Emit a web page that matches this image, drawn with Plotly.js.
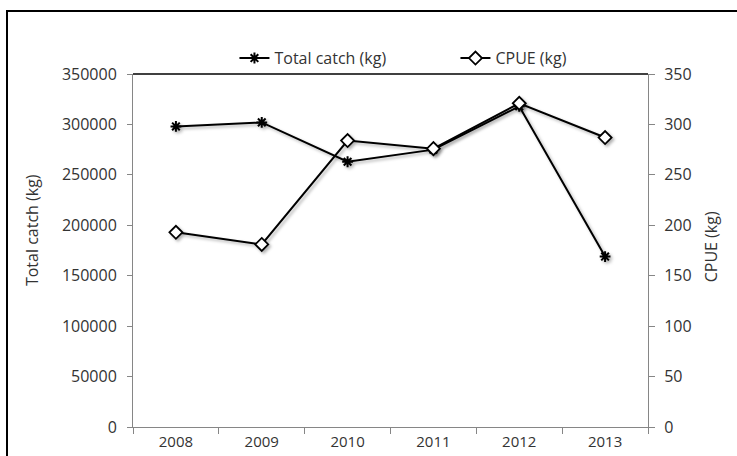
<!DOCTYPE html>
<html>
<head>
<meta charset="utf-8">
<script src="https://cdn.plot.ly/plotly-3.0.1.min.js"></script>
<style>
  html, body { margin: 0; padding: 0; background: #fff; overflow: hidden; }
  #wrap { position: relative; width: 737px; height: 456px; overflow: hidden; }
  #chart { width: 737px; height: 456px; }
  #frameL { position: absolute; left: 6px; top: 10px; width: 2px; height: 446px; background: #000; pointer-events: none; }
  #frameT { position: absolute; left: 6px; top: 10px; width: 731px; height: 2px; background: #000; pointer-events: none; }
  .scatterlayer { filter: drop-shadow(2px 2px 1.5px rgba(0,0,0,0.3)); }
</style>
</head>
<body>
<div id="wrap"><div id="chart"></div><div id="frameL"></div><div id="frameT"></div></div>
<script>
const years = ['2008', '2009', '2010', '2011', '2012', '2013'];
const totalCatch = [298000, 302000, 263000, 275000, 318000, 169000];
const cpue = [193, 181, 284, 276, 321, 287];
const leftTicks = [0, 50000, 100000, 150000, 200000, 250000, 300000, 350000];
const rightTicks = [0, 50, 100, 150, 200, 250, 300, 350];

const FONT = 'Open Sans, sans-serif';
const FS = 16;
const TXT = '#333333';
const AX = '#868686';

const traces = [
  {
    x: years, y: totalCatch, name: 'Total catch (kg)', type: 'scatter', mode: 'lines+markers',
    line: {color: '#000', width: 2},
    marker: {symbol: 'asterisk-open', size: 9, color: '#000', line: {color: '#000', width: 2}},
    yaxis: 'y'
  },
  {
    x: years, y: cpue, name: 'CPUE (kg)', type: 'scatter', mode: 'lines+markers',
    line: {color: '#000', width: 2},
    marker: {symbol: 'diamond', size: 10, color: '#fff', line: {color: '#000', width: 1.8}},
    yaxis: 'y2'
  }
];

const layout = {
  width: 737, height: 456,
  margin: {l: 133, r: 89, t: 74, b: 29},
  paper_bgcolor: '#fff', plot_bgcolor: '#fff',
  font: {family: FONT, size: FS, color: TXT},
  showlegend: true,
  legend: {
    orientation: 'h', x: 0.197, xanchor: 'left', y: 1.045, yanchor: 'middle',
    font: {family: FONT, size: FS, color: TXT}, bgcolor: 'rgba(0,0,0,0)',
    entrywidth: 176, itemwidth: 30
  },
  xaxis: {
    type: 'category', range: [-0.5, 5.5], fixedrange: true,
    showline: true, linecolor: AX, linewidth: 1,
    ticks: 'outside', tickson: 'boundaries', ticklen: 6, tickcolor: AX, ticklabelstandoff: 1,
    showgrid: false, zeroline: false,
    tickfont: {family: FONT, size: 15, color: TXT}
  },
  yaxis: {
    range: [0, 350000], tickvals: leftTicks, ticktext: leftTicks.map(String),
    showline: true, linecolor: AX, linewidth: 1,
    ticks: 'outside', ticklen: 5, tickcolor: AX, ticklabelstandoff: 7,
    showgrid: false, zeroline: false,
    tickfont: {family: FONT, size: FS, color: TXT}
  },
  yaxis2: {
    range: [0, 350], tickvals: rightTicks, ticktext: rightTicks.map(String),
    overlaying: 'y', side: 'right',
    showline: true, linecolor: AX, linewidth: 1,
    ticks: 'outside', ticklen: 6, tickcolor: AX, ticklabelstandoff: 6,
    showgrid: false, zeroline: false,
    tickfont: {family: FONT, size: FS, color: TXT}
  },
  shapes: [
    {type: 'line', xref: 'paper', yref: 'paper', x0: 0, x1: 1, y0: 1, y1: 1,
     line: {color: '#000', width: 1.5}}
  ],
  annotations: [
    {text: 'Total catch (kg)', xref: 'paper', yref: 'paper', x: -0.196, y: 0.558,
     textangle: -90, showarrow: false, xanchor: 'center', yanchor: 'middle',
     font: {family: FONT, size: FS, color: TXT}},
    {text: 'CPUE (kg)', xref: 'paper', yref: 'paper', x: 1.123, y: 0.51,
     textangle: -90, showarrow: false, xanchor: 'center', yanchor: 'middle',
     font: {family: FONT, size: FS, color: TXT}}
  ]
};

Plotly.newPlot('chart', traces, layout, {displayModeBar: false, staticPlot: true});
</script>
</body>
</html>
